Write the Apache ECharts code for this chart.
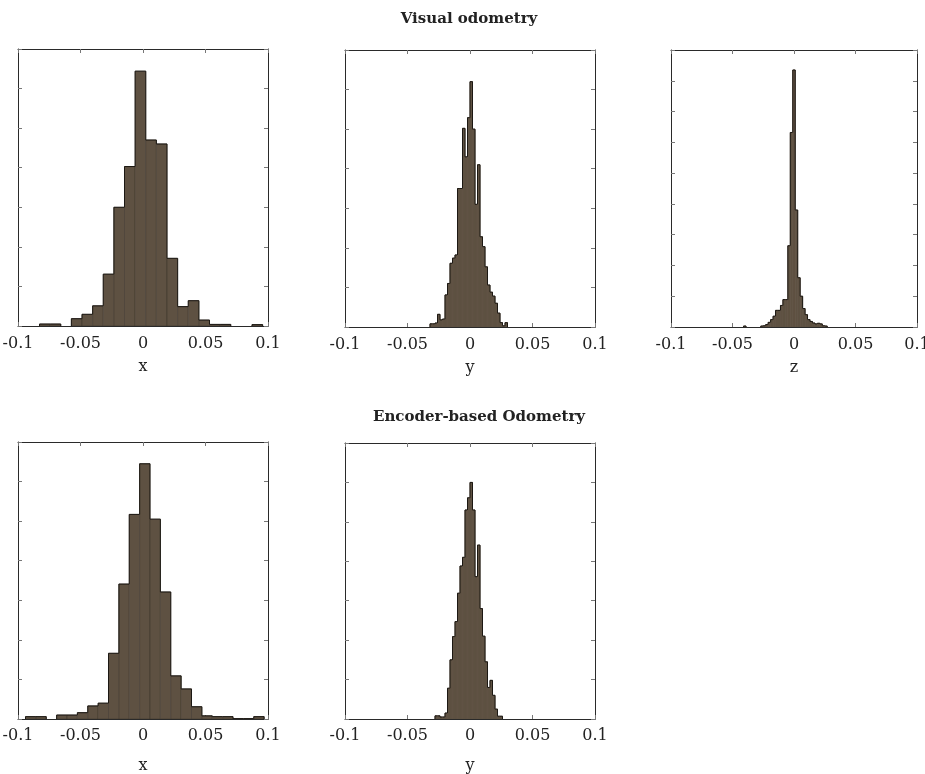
<!DOCTYPE html>
<html>
<head>
<meta charset="utf-8">
<script src="https://cdn.jsdelivr.net/npm/echarts@6/dist/echarts.min.js"></script>
<style>html,body{margin:0;padding:0;background:#fff;}#c{width:925px;height:774px;}</style>
</head>
<body>
<div id="c"></div>
<script>
// ---------- DATA ----------
const xTickLabels = ['-0.1', '-0.05', '0', '0.05', '0.1'];
const titles = ['Visual odometry', 'Encoder-based Odometry'];
const axisNames = ['x', 'y', 'z', 'x', 'y'];

// Visual odometry, x  (bin lower edges, bin width 0.0085)
const visXLo = [-0.0828, -0.0743, -0.0658, -0.0573, -0.0488, -0.0403, -0.0318, -0.0233, -0.0148, -0.0063,
                0.0022, 0.0107, 0.0192, 0.0277, 0.0362, 0.0447, 0.0532, 0.0617, 0.0702, 0.0787, 0.0872];
const visXCnt = [0.5, 0.5, 0, 1.85, 2.95, 5.1, 13.1, 30.0, 40.3, 64.4,
                 47.0, 46.0, 17.1, 4.9, 6.4, 1.5, 0.4, 0.4, 0, 0, 0.35];
const visXW = 0.0085;

// Visual odometry, y  (bin width 0.002)
const visYLo = [-0.032, -0.030, -0.028, -0.026, -0.024, -0.022, -0.020, -0.018, -0.016, -0.014, -0.012,
                -0.010, -0.008, -0.006, -0.004, -0.002, 0.000, 0.002, 0.004, 0.006, 0.008, 0.010,
                0.012, 0.014, 0.016, 0.018, 0.020, 0.022, 0.024, 0.026, 0.028];
const visYCnt = [0.8, 0.8, 1.0, 3.2, 1.8, 2.0, 8.1, 11.0, 16.1, 17.4, 18.2,
                 35.0, 35.0, 50.2, 43.0, 52.9, 62.0, 50.0, 31.0, 41.0, 22.8, 20.3,
                 15.2, 10.6, 8.8, 7.8, 6.0, 3.5, 1.1, 0.3, 1.1];
const visYW = 0.002;

// Visual odometry, z  (bin width 0.002)
const visZLo = [-0.041, -0.027, -0.025, -0.023, -0.021, -0.019, -0.017, -0.015, -0.013, -0.011, -0.009,
                -0.007, -0.005, -0.003, -0.001, 0.001, 0.003, 0.005, 0.007, 0.009, 0.011, 0.013,
                0.015, 0.017, 0.019, 0.021, 0.023, 0.025];
const visZCnt = [0.3, 0.3, 0.4, 0.8, 1.5, 2.4, 3.5, 5.4, 5.4, 7.0, 8.9,
                 8.9, 26.4, 63.2, 83.5, 38.0, 16.0, 10.0, 6.0, 4.0, 2.4, 1.8,
                 1.3, 1.0, 1.2, 1.0, 0.4, 0.3];
const visZW = 0.002;

// Encoder-based odometry, x  (bin width 0.0083)
const encXLo = [-0.0940, -0.0857, -0.0774, -0.0691, -0.0608, -0.0525, -0.0442, -0.0359, -0.0276, -0.0193,
                -0.0110, -0.0027, 0.0056, 0.0139, 0.0222, 0.0305, 0.0388, 0.0471, 0.0554, 0.0637,
                0.0720, 0.0803, 0.0886];
const encXCnt = [0.6, 0.6, 0, 1.0, 1.0, 1.6, 3.3, 4.0, 16.6, 34.1,
                 51.7, 64.5, 50.5, 32.1, 10.9, 7.6, 3.1, 0.8, 0.6, 0.6,
                 0.1, 0.1, 0.6];
const encXW = 0.0083;

// Encoder-based odometry, y  (bin width 0.002)
const encYLo = [-0.028, -0.026, -0.024, -0.022, -0.020, -0.018, -0.016, -0.014, -0.012, -0.010,
                -0.008, -0.006, -0.004, -0.002, 0.000, 0.002, 0.004, 0.006, 0.008, 0.010,
                0.012, 0.014, 0.016, 0.018, 0.020, 0.022, 0.024];
const encYCnt = [0.8, 0.8, 0.5, 0.5, 1.5, 7.8, 15.0, 20.9, 24.7, 31.9,
                 38.8, 41.0, 53.0, 56.1, 60.0, 53.0, 36.1, 44.1, 28.0, 21.0,
                 14.5, 8.0, 9.8, 6.0, 2.5, 0.7, 0.7];
const encYW = 0.002;

const yMax = [70, 70, 90, 70, 70];

// ---------- LAYOUT ----------
const panels = [
  {lo: visXLo, cnt: visXCnt, w: visXW, inner: true,  grid: {left: 18, top: 49, width: 250, height: 277}, labelMargin: 10, nameGap: 33},
  {lo: visYLo, cnt: visYCnt, w: visYW, inner: false, grid: {left: 345, top: 50, width: 250, height: 277}, labelMargin: 10, nameGap: 33},
  {lo: visZLo, cnt: visZCnt, w: visZW, inner: false, grid: {left: 671, top: 50, width: 246, height: 277}, labelMargin: 10, nameGap: 33},
  {lo: encXLo, cnt: encXCnt, w: encXW, inner: true,  grid: {left: 18, top: 442, width: 250, height: 277}, labelMargin: 9, nameGap: 39},
  {lo: encYLo, cnt: encYCnt, w: encYW, inner: false, grid: {left: 345, top: 443, width: 250, height: 276}, labelMargin: 9, nameGap: 39}
];

const FONT = 'DejaVu Serif';
const BAR = '#5e5142';
const EDGE = '#1c1813';
const LINE = '#2a2a2a';

const grid = [], xAxis = [], yAxis = [], series = [];
panels.forEach((p, i) => {
  grid.push(Object.assign({containLabel: false, outerBoundsMode: 'none'}, p.grid));
  const common = {
    gridIndex: i, type: 'value', min: -0.1, max: 0.1, interval: 0.05,
    axisLine: {show: true, onZero: false, lineStyle: {color: LINE, width: 1}},
    axisTick: {show: true, inside: true, length: 4, lineStyle: {color: '#777', width: 1}},
    splitLine: {show: false}
  };
  xAxis.push(Object.assign({}, common, {
    position: 'bottom',
    axisLabel: {show: true, margin: p.labelMargin, fontFamily: FONT, fontSize: 16, color: '#222',
      formatter: (v) => xTickLabels[Math.round((v + 0.1) / 0.05)]},
    name: axisNames[i], nameLocation: 'middle', nameGap: p.nameGap,
    nameTextStyle: {fontFamily: FONT, fontSize: 16, color: '#222'}
  }));
  xAxis.push(Object.assign({}, common, {position: 'top', axisLabel: {show: false}}));
  const yc = {
    gridIndex: i, type: 'value', min: 0, max: yMax[i], interval: 10,
    axisLine: {show: true, onZero: false, lineStyle: {color: LINE, width: 1}},
    axisTick: {show: true, inside: true, length: 4, lineStyle: {color: '#777', width: 1}},
    axisLabel: {show: false}, splitLine: {show: false}
  };
  yAxis.push(Object.assign({}, yc, {position: 'left'}));
  yAxis.push(Object.assign({}, yc, {position: 'right'}));
  series.push({
    type: 'custom', xAxisIndex: 2 * i, yAxisIndex: 2 * i, clip: true,
    data: p.lo.map((lo, j) => [lo, lo + p.w, p.cnt[j]]),
    encode: {x: [0, 1], y: 2},
    renderItem: function (params, api) {
      const j = params.dataIndex;
      const lo = api.value(0), hi = api.value(1), v = api.value(2);
      if (!(v > 0)) return null;
      const prevV = (j > 0 && Math.abs(p.lo[j - 1] + p.w - lo) < 1e-6) ? p.cnt[j - 1] : 0;
      const nextV = (j < p.lo.length - 1 && Math.abs(p.lo[j + 1] - hi) < 1e-6) ? p.cnt[j + 1] : 0;
      const a = api.coord([lo, v]);
      const b = api.coord([hi, 0]);
      const children = [{
        type: 'rect',
        shape: {x: a[0], y: a[1], width: b[0] - a[0], height: b[1] - a[1]},
        style: p.inner ? {fill: BAR, stroke: '#3a3128', lineWidth: 0.5} : {fill: BAR, stroke: BAR, lineWidth: 0.8}
      }];
      const edgeStyle = {stroke: EDGE, lineWidth: 1, fill: null};
      children.push({type: 'line', shape: {x1: a[0], y1: a[1], x2: b[0], y2: a[1]}, style: edgeStyle});
      if (v > prevV) {
        const q = api.coord([lo, prevV]);
        children.push({type: 'line', shape: {x1: a[0], y1: a[1], x2: a[0], y2: q[1]}, style: edgeStyle});
      }
      if (v > nextV) {
        const q = api.coord([hi, nextV]);
        children.push({type: 'line', shape: {x1: b[0], y1: a[1], x2: b[0], y2: q[1]}, style: edgeStyle});
      }
      return {type: 'group', children: children};
    }
  });
});

const option = {
  backgroundColor: '#ffffff',
  animation: false,
  title: [
    {text: titles[0], left: 469, top: 12, textAlign: 'center', padding: 0,
     textStyle: {fontFamily: FONT, fontSize: 15, fontWeight: 'bold', color: '#222'}},
    {text: titles[1], left: 479, top: 410, textAlign: 'center', padding: 0,
     textStyle: {fontFamily: FONT, fontSize: 15, fontWeight: 'bold', color: '#222'}}
  ],
  grid, xAxis, yAxis, series
};

const chart = echarts.init(document.getElementById('c'), null, {renderer: 'canvas'});
chart.setOption(option);
</script>
</body>
</html>
